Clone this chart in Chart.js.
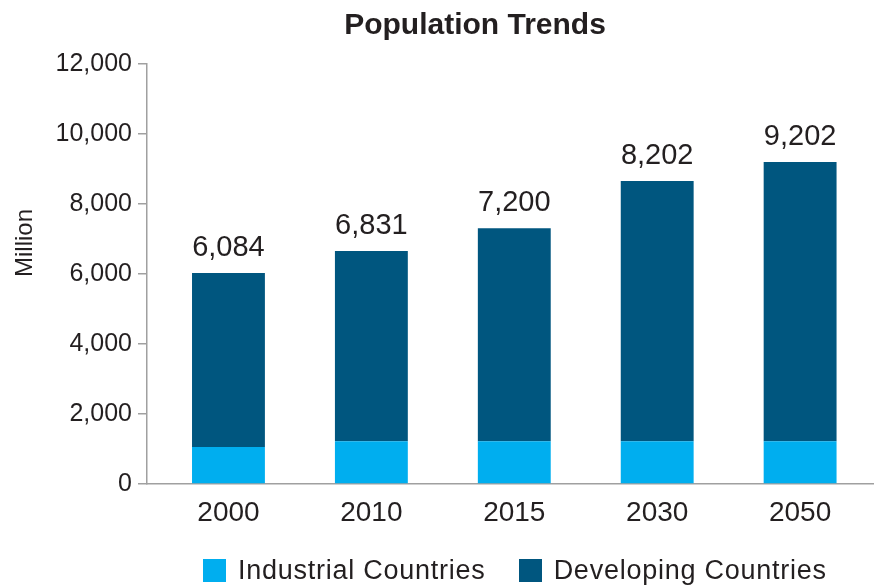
<!DOCTYPE html>
<html>
<head>
<meta charset="utf-8">
<script src="https://cdn.jsdelivr.net/npm/chart.js@4.4.1/dist/chart.umd.min.js"></script>
<style>
  html, body { margin: 0; padding: 0; background: #fff; }
  #wrap { position: relative; width: 876px; height: 586px; }
  #legend {
    position: absolute; left: 203px; top: 555px; display: flex; align-items: center;
    font-family: "Liberation Sans", Arial, sans-serif; font-size: 27px; color: #231f20;
    letter-spacing: 0.75px;
  }
  #legend .item { display: flex; align-items: center; margin-right: 33px; }
  #legend .box { width: 23px; height: 23px; margin-right: 12px; }
</style>
</head>
<body>
<div id="wrap">
  <canvas id="popChart" width="876" height="586"></canvas>
  <div id="legend"></div>
</div>
<script>
// chart data
const years = ['2000', '2010', '2015', '2030', '2050'];
const industrial = [1060, 1220, 1220, 1220, 1220];
const developing = [4970, 5440, 6090, 7440, 7980];
const totalLabels = ['6,084', '6,831', '7,200', '8,202', '9,202'];
const yTicks = [0, 2000, 4000, 6000, 8000, 10000, 12000];

const seriesNames = ['Industrial Countries', 'Developing Countries'];
const seriesColors = ['#00aeef', '#00567f'];

const FONT = '"Liberation Sans", Arial, sans-serif';
const TEXT = '#231f20';

// title, y axis name and total labels above bars
const extraText = {
  id: 'extraText',
  afterDatasetsDraw(chart) {
    const ctx = chart.ctx;
    const area = chart.chartArea;
    ctx.save();
    ctx.fillStyle = TEXT;

    ctx.font = 'bold 30px ' + FONT;
    ctx.textAlign = 'center';
    ctx.textBaseline = 'alphabetic';
    ctx.fillText('Population Trends', 475, 34);

    ctx.save();
    ctx.translate(25, area.top + (area.bottom - area.top) / 2 - 31);
    ctx.rotate(-Math.PI / 2);
    ctx.font = '24px ' + FONT;
    ctx.textBaseline = 'middle';
    ctx.fillText('Million', 0, 0);
    ctx.restore();

    // totals over the top segment
    const meta = chart.getDatasetMeta(1);
    ctx.font = '29px ' + FONT;
    meta.data.forEach((bar, i) => {
      ctx.fillText(totalLabels[i], bar.x, bar.y - 17);
    });
    ctx.restore();
  }
};

const ctx = document.getElementById('popChart').getContext('2d');
new Chart(ctx, {
  type: 'bar',
  data: {
    datasets: [
      { label: seriesNames[0], data: industrial.map((v, i) => ({ x: i, y: v })), backgroundColor: seriesColors[0] },
      { label: seriesNames[1], data: developing.map((v, i) => ({ x: i, y: v })), backgroundColor: seriesColors[1] }
    ]
  },
  options: {
    responsive: false,
    animation: false,
    layout: { padding: { top: 64, right: 3, bottom: 57, left: 0 } },
    datasets: { bar: { barPercentage: 0.51, categoryPercentage: 1 } },
    plugins: {
      legend: { display: false },
      title: { display: false },
      tooltip: { enabled: false }
    },
    scales: {
      x: {
        type: 'linear',
        stacked: true,
        offset: false,
        min: -0.57,
        max: 4.51,
        afterBuildTicks(scale) { scale.ticks = years.map((y, i) => ({ value: i })); },
        grid: { display: false },
        border: { color: '#a0a0a0', width: 1.5 },
        ticks: { color: TEXT, font: { family: FONT, size: 28 }, padding: 4, callback: v => years[v] },
        afterFit(scale) { scale.height = 45; }
      },
      y: {
        stacked: true,
        min: 0,
        max: 12000,
        afterBuildTicks(scale) { scale.ticks = yTicks.map(v => ({ value: v })); },
        grid: { drawOnChartArea: false, drawTicks: true, tickLength: 9, color: '#a0a0a0', lineWidth: 1.5 },
        border: { color: '#a0a0a0', width: 1.5 },
        ticks: {
          color: TEXT,
          font: { family: FONT, size: 25 },
          padding: 6,
          callback: v => v.toLocaleString('en-US')
        },
        afterFit(scale) { scale.width = 147; }
      }
    }
  },
  plugins: [extraText]
});

// html legend built from the series
const legend = document.getElementById('legend');
seriesNames.forEach((name, i) => {
  const item = document.createElement('div');
  item.className = 'item';
  item.innerHTML = `<span class="box" style="background:${seriesColors[i]}"></span><span>${name}</span>`;
  legend.appendChild(item);
});
</script>
</body>
</html>
